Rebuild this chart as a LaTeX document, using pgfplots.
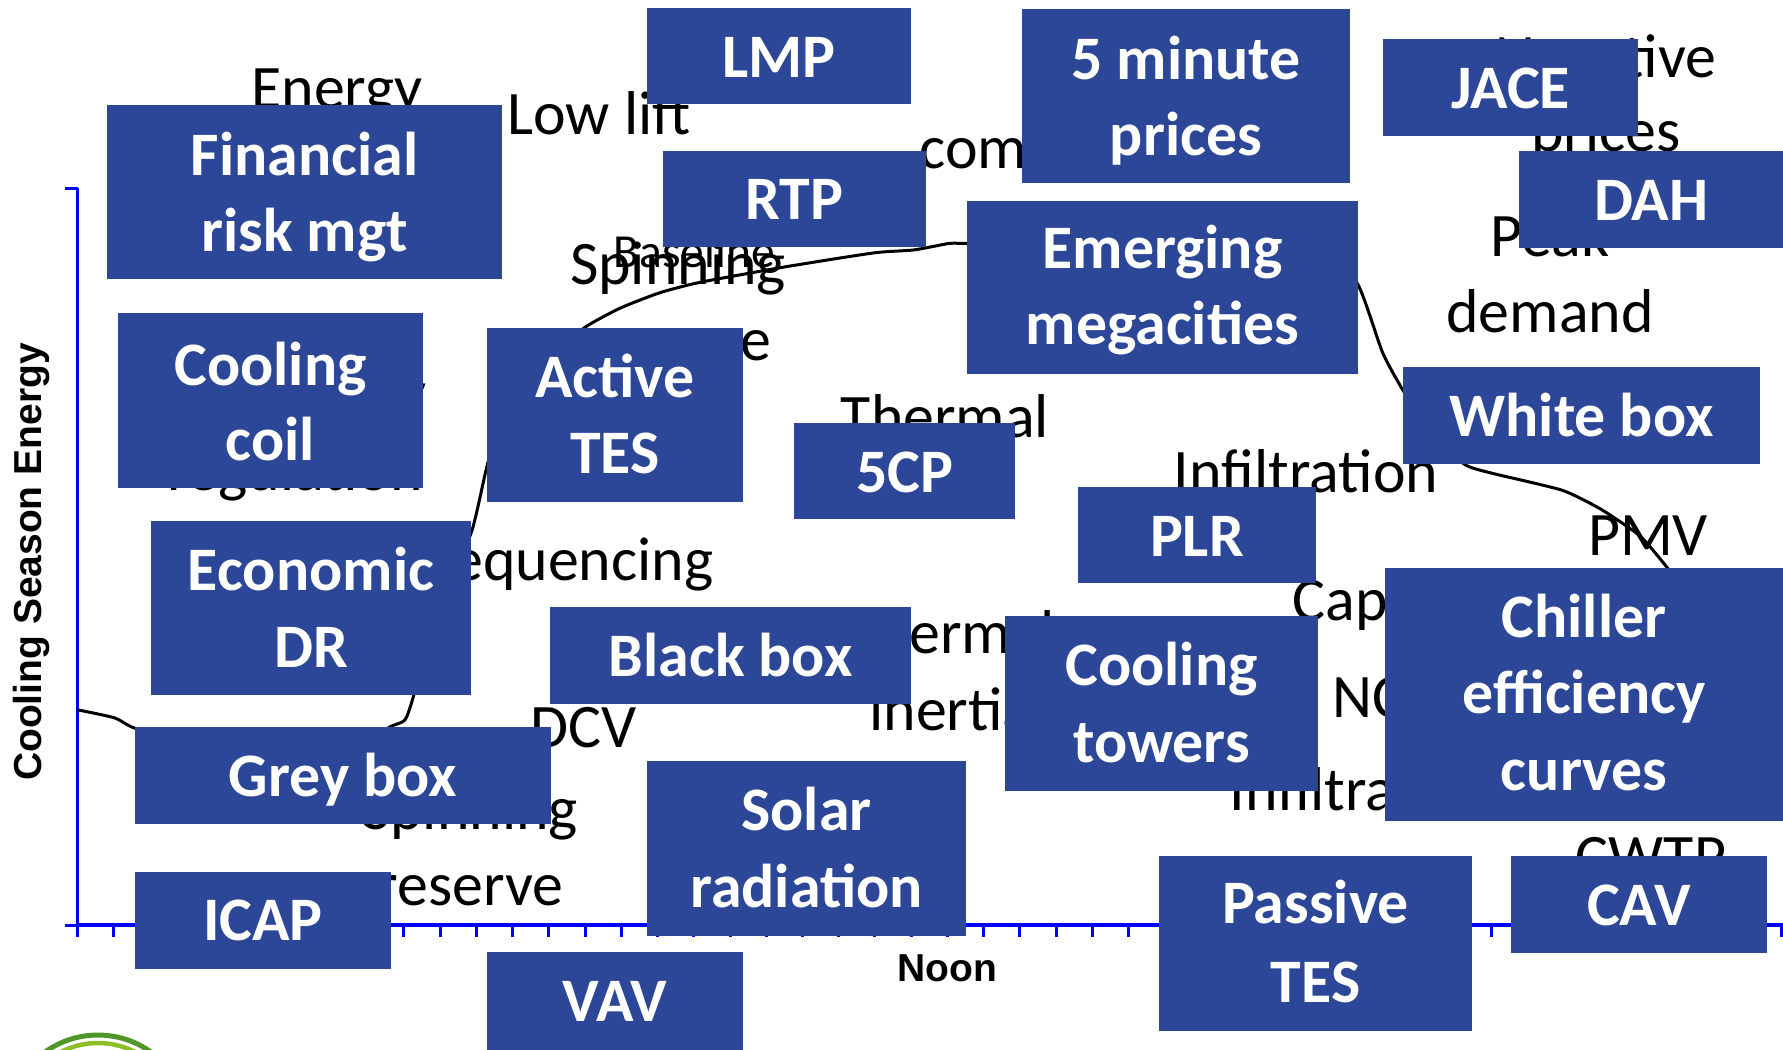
\documentclass[border=0pt]{standalone}
\usepackage{fontspec}
\setmainfont{Carlito}
\newfontfamily\arial{Liberation Sans}
\usepackage{pgfplots}
\pgfplotsset{compat=1.18}
\definecolor{boxblue}{RGB}{44,71,152}
\definecolor{axblue}{RGB}{0,0,255}
\newcommand\bx[4]{\fill[boxblue] (#1,#2) rectangle (#3,#4);}
\tikzset{
  bt/.style={anchor=base, text=white, inner sep=0pt, font=\fontsize{17.6pt}{21.6pt}\selectfont\bfseries},
  tt/.style={anchor=base, text=black, inner sep=0pt, font=\fontsize{17.6pt}{21.6pt}\selectfont}
}
\begin{document}
\begin{tikzpicture}[x=0.1mm,y=-0.1mm]
\useasboundingbox (0,0) rectangle (1783,1049);
\clip (0,0) rectangle (1783,1049);
\begin{axis}[
  at={(7.75mm,-92.5mm)}, anchor=south west,
  scale only axis, width=174mm, height=73.7mm,
  xmin=0, xmax=48, ymin=0, ymax=100,
  axis lines=left,
  axis line style={-, draw=axblue, line width=0.35mm},
  xtick={0,...,48}, ytick={0,100},
  xticklabels={}, yticklabels={},
  tick align=outside, major tick length=1.2mm,
  tick style={axblue, line width=0.3mm},
  xlabel={Noon}, ylabel={Cooling Season Energy},
  xlabel style={at={(axis description cs:0.5,-0.076)}, anchor=base, inner sep=0pt,
    font=\fontsize{11.1pt}{13pt}\selectfont\arial\bfseries},
  ylabel style={at={(axis description cs:-0.0267,0.4925)}, anchor=center, inner sep=0pt,
    font=\fontsize{11.1pt}{13pt}\selectfont\arial\bfseries},
]
\addplot[black, line width=0.3mm, smooth, tension=0.35] coordinates {
(0,29.2) (1.03,28.1) (1.59,26.7) (3.4,24.6) (6.1,24.0) (8.07,25.1) (8.62,26.9)
(9.03,27.8) (9.26,30.9) (10.0,44.1) (10.86,53.2) (11.27,61.7) (11.66,68.5)
(12.76,76.0) (13.97,81.0) (14.97,83.7) (16.07,85.8) (17.17,87.2) (19.52,89.3)
(21.97,91.2) (23.08,91.6) (24.07,92.5) (24.57,92.5) (28.2,93.1) (32.3,92.3)
(34.3,90.0) (35.3,87.1) (36.0,77.7) (36.56,72.6) (37.45,65.8) (38.3,62.4)
(39.02,61.3) (40.95,59.0) (42.03,56.4) (43.1,52.8) (43.82,48.7) (44.76,42.7)
};
\end{axis}
% black text
\node[tt] at (337,108) {Energy};
\node[tt] at (599,134) {Low lift};
\node[tt, anchor=base west] at (919,168) {comfort};
\node[tt] at (678,284) {Spinning};
\node[tt] at (678,360) {reserve};
\node[tt, anchor=base west, font=\fontsize{13.5pt}{16pt}\selectfont] at (613,267) {Baseline};
\node[tt] at (945,437) {Thermal};
\node[tt] at (295,413) {Frequency};
\node[tt] at (295,490) {regulation};
\node[tt, anchor=base east] at (714,580) {Sequencing};
\node[tt] at (584,747) {DCV};
\node[tt] at (470,829) {Spinning};
\node[tt] at (470,905) {reserve};
\node[tt] at (951,653) {Thermal};
\node[tt] at (951,730) {inertia};
\node[tt] at (1306,492) {Infiltration};
\node[tt, anchor=base west] at (1292,620) {Capacity};
\node[tt, anchor=base west] at (1332,717) {NC};
\node[tt, anchor=base west] at (1229,810) {Infiltration};
\node[tt] at (1651,877) {CWTP};
\node[tt] at (1550,256) {Peak};
\node[tt] at (1550,332) {demand};
\node[tt] at (1606,77) {Negative};
\node[tt] at (1606,151) {prices};
\node[tt] at (1648,555) {PMV};
% boxes
\bx{107}{105}{502}{279}
\node[bt] at (304.5,175) {Financial}; \node[bt] at (304.5,251) {risk mgt};
\bx{647}{8}{911}{104}
\node[bt] at (779,77) {LMP};
\bx{663}{151}{926}{247}
\node[bt] at (794.5,219) {RTP};
\bx{1022}{9}{1350}{183}
\node[bt] at (1186,79) {5 minute}; \node[bt] at (1186,155) {prices};
\bx{1383}{39}{1638}{136}
\node[bt] at (1510.5,108) {JACE};
\bx{1519}{151}{1783}{248}
\node[bt] at (1651,220) {DAH};
\bx{967}{201}{1358}{374}
\node[bt] at (1162.5,268) {Emerging}; \node[bt] at (1162.5,344) {megacities};
\bx{118}{313}{423}{488}
\node[bt] at (270.5,385) {Cooling}; \node[bt] at (270.5,460) {coil};
\bx{487}{328}{743}{502}
\node[bt] at (615,397) {Active}; \node[bt] at (615,473) {TES};
\bx{794}{423}{1015}{519}
\node[bt] at (904.5,492) {5CP};
\bx{1403}{367}{1760}{464}
\node[bt] at (1581.5,436) {White box};
\bx{1078}{487}{1316}{583}
\node[bt] at (1197,556) {PLR};
\bx{151}{521}{471}{695}
\node[bt] at (311,590) {Economic}; \node[bt] at (311,667) {DR};
\bx{550}{607}{911}{704}
\node[bt] at (730.5,676) {Black box};
\bx{1005}{616}{1318}{791}
\node[bt] at (1161.5,685) {Cooling}; \node[bt] at (1161.5,762) {towers};
\bx{1385}{568}{1783}{821}
\node[bt] at (1584,637) {Chiller}; \node[bt] at (1584,713) {efficiency}; \node[bt] at (1584,790) {curves};
\bx{135}{727}{551}{824}
\node[bt] at (343,796) {Grey box};
\bx{647}{761}{966}{936}
\node[bt] at (806.5,830) {Solar}; \node[bt] at (806.5,907) {radiation};
\bx{135}{872}{391}{969}
\node[bt] at (263,940) {ICAP};
\bx{487}{952}{743}{1050}
\node[bt] at (615,1021) {VAV};
\bx{1159}{856}{1472}{1031}
\node[bt] at (1315.5,923) {Passive}; \node[bt] at (1315.5,1002) {TES};
\bx{1511}{856}{1767}{953}
\node[bt] at (1639,925) {CAV};
% logo arcs
\draw[draw={rgb,255:red,80;green,150;blue,40}, line width=0.5mm] (98,1126) circle[radius=91];
\draw[draw={rgb,255:red,140;green,190;blue,40}, line width=0.45mm] (98,1124) circle[radius=81];
\end{tikzpicture}
\end{document}
